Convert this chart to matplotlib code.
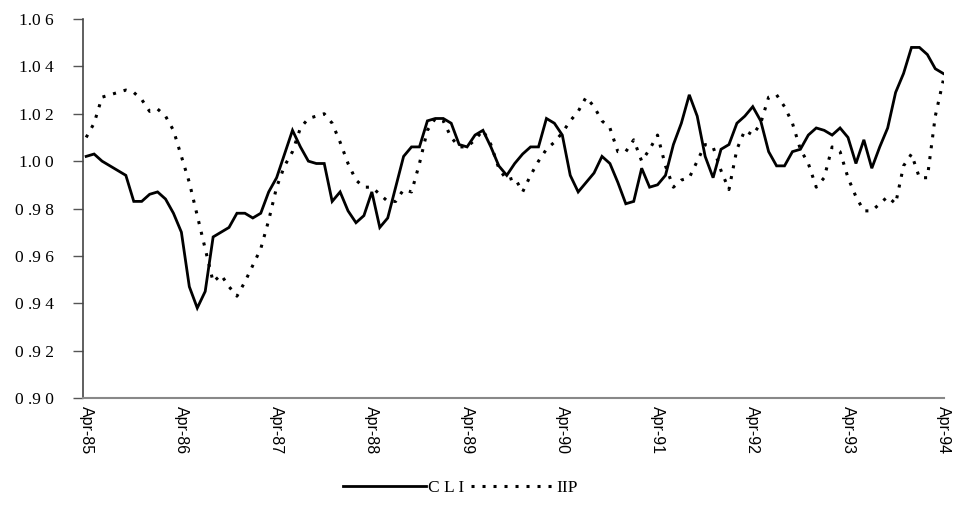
import numpy as np
import matplotlib
matplotlib.use("Agg")
import matplotlib.pyplot as plt

# monthly series, Apr-85 .. Apr-94
cli = [1.002, 1.003, 1.000, 0.998, 0.996, 0.994, 0.983, 0.983, 0.986, 0.987,
       0.984, 0.978, 0.970, 0.947, 0.938, 0.945, 0.968, 0.970, 0.972, 0.978,
       0.978, 0.976, 0.978, 0.987, 0.993, 1.003, 1.013, 1.006, 1.000, 0.999,
       0.999, 0.983, 0.987, 0.979, 0.974, 0.977, 0.987, 0.972, 0.976, 0.989,
       1.002, 1.006, 1.006, 1.017, 1.018, 1.018, 1.016, 1.007, 1.006, 1.011,
       1.013, 1.006, 0.998, 0.994, 0.999, 1.003, 1.006, 1.006, 1.018, 1.016,
       1.011, 0.994, 0.987, 0.991, 0.995, 1.002, 0.999, 0.991, 0.982, 0.983,
       0.997, 0.989, 0.990, 0.994, 1.007, 1.016, 1.028, 1.019, 1.002, 0.993,
       1.005, 1.007, 1.016, 1.019, 1.023, 1.017, 1.004, 0.998, 0.998, 1.004,
       1.005, 1.011, 1.014, 1.013, 1.011, 1.014, 1.010, 0.999, 1.009, 0.997,
       1.006, 1.014, 1.029, 1.037, 1.048, 1.048, 1.045, 1.039, 1.037]

iip = [1.010, 1.016, 1.027, 1.028, 1.029, 1.030, 1.029, 1.026, 1.021, 1.022,
       1.019, 1.013, 1.002, 0.991, 0.977, 0.963, 0.949, 0.952, 0.947, 0.943,
       0.949, 0.956, 0.963, 0.975, 0.989, 0.998, 1.004, 1.014, 1.018, 1.019,
       1.020, 1.016, 1.008, 0.999, 0.992, 0.989, 0.989, 0.986, 0.983, 0.983,
       0.988, 0.987, 0.999, 1.013, 1.018, 1.017, 1.010, 1.006, 1.006, 1.009,
       1.013, 1.007, 0.997, 0.992, 0.993, 0.987, 0.994, 1.000, 1.005, 1.008,
       1.012, 1.017, 1.021, 1.027, 1.023, 1.017, 1.014, 1.004, 1.004, 1.009,
       1.000, 1.005, 1.011, 0.998, 0.989, 0.992, 0.993, 1.000, 1.007, 1.006,
       0.996, 0.988, 1.005, 1.013, 1.011, 1.016, 1.027, 1.028, 1.023, 1.016,
       1.005, 0.999, 0.989, 0.993, 1.006, 1.004, 0.993, 0.985, 0.979, 0.979,
       0.982, 0.985, 0.982, 0.998, 1.003, 0.993, 0.993, 1.019, 1.034]

xlabels = ["Apr-85", "Apr-86", "Apr-87", "Apr-88", "Apr-89",
           "Apr-90", "Apr-91", "Apr-92", "Apr-93", "Apr-94"]
yticks = [0.90, 0.92, 0.94, 0.96, 0.98, 1.00, 1.02, 1.04, 1.06]
ylabels = ["0 .9 0", "0 .9 2", "0 .9 4", "0 .9 6", "0 .9 8",
           "1.0 0", "1.0 2", "1.0 4", "1.0 6"]

fig = plt.figure(figsize=(9.55, 5.25), dpi=100)
ax = fig.add_axes([0.0869, 0.2419, 0.9016, 0.7219])

x = np.arange(len(cli))
ax.plot(x, cli, color="black", lw=2.0, solid_joinstyle="miter", label="C L I")
ax.plot(x, iip, color="black", lw=2.2, linestyle=(0, (1, 2.6)), label="IIP")

ax.set_xlim(-0.4, 108.1)
ax.set_ylim(0.90, 1.06)

ax.set_yticks(yticks)
ax.set_yticklabels(ylabels, family="Liberation Serif", fontsize=12.5)
ax.set_xticks(np.arange(0, len(cli), 12))
ax.set_xticklabels(xlabels, rotation=-90, family="Liberation Sans", fontsize=11.5)

ax.tick_params(axis="y", length=7, width=1, color="#555555", pad=14)
ax.tick_params(axis="x", length=0, pad=6)

for s in ["top", "right"]:
    ax.spines[s].set_visible(False)
ax.spines["left"].set_color("#444444")
ax.spines["bottom"].set_color("#888888")
ax.spines["left"].set_linewidth(1.2)
ax.spines["bottom"].set_linewidth(1.5)

leg = fig.legend(loc="center", bbox_to_anchor=(0.482, 0.07), ncol=2, frameon=False,
                 handlelength=4.8, handletextpad=0.1, columnspacing=0.4,
                 prop={"family": "Liberation Serif", "size": 12.5})

fig.savefig("out.png", dpi=100)
